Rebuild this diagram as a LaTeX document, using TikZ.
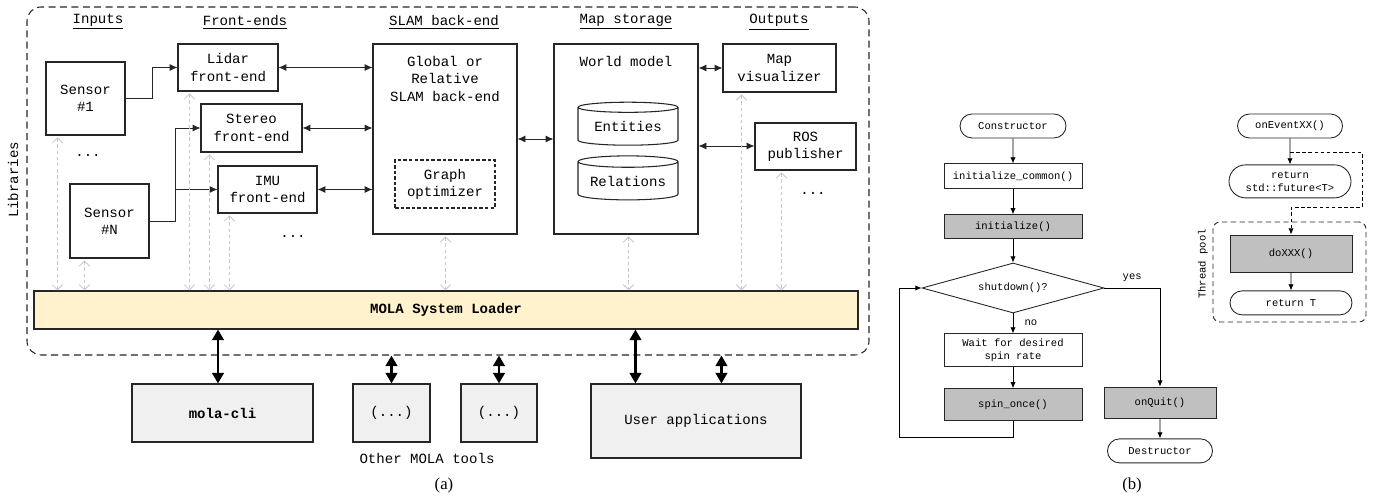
\documentclass[tikz,border=0pt]{standalone}
\usepackage{fontspec}
\setmainfont{Liberation Serif}
\setmonofont{Liberation Mono}
\usetikzlibrary{arrows.meta, positioning, shapes.geometric, shapes.misc}

\newcommand{\archfont}{\ttfamily\fontsize{8}{9.8}\selectfont}
\newcommand{\flowfont}{\ttfamily\fontsize{6}{7.6}\selectfont}

\definecolor{loaderfill}{HTML}{FFF2CC}
\definecolor{toolfill}{HTML}{F0F0F0}
\definecolor{userfill}{HTML}{C0C0C0}

\tikzset{
  sz/.style 2 args={minimum width=#1*0.02cm, minimum height=#2*0.02cm},
  blk/.style={draw=black!85, line width=0.6pt, fill=white, align=center,
    inner sep=0pt, font=\archfont},
  tool/.style={blk, fill=toolfill},
  hdr/.style={font=\archfont, inner sep=1pt},
  dlink/.style={black!85, line width=0.5pt,
    {Latex[length=4.5pt,width=4pt]}-{Latex[length=4.5pt,width=4pt]}},
  link/.style={black!85, line width=0.5pt, -{Latex[length=4.5pt,width=4pt]}},
  cfg/.style={black!22, line width=0.5pt, dash pattern=on 2pt off 1.5pt,
    {Straight Barb[length=3pt,width=6pt]}-{Straight Barb[length=3pt,width=6pt]}},
  big/.style={line width=1.5pt,
    {Triangle[length=6pt,width=6.5pt]}-{Triangle[length=6pt,width=6.5pt]}},
  % flow chart
  fblock/.style={draw=black!85, line width=0.5pt, fill=white, align=center,
    inner sep=0pt, font=\flowfont},
  fuser/.style={fblock, fill=userfill},
  fterm/.style={fblock, rounded rectangle},
  flow/.style={black, line width=0.5pt, -{Latex[length=3.5pt,width=3pt]}},
}

\begin{document}
\begin{tikzpicture}[x=0.02cm, y=-0.02cm]
\useasboundingbox (0,0) rectangle (1376,496);

% Libraries frame
\node[draw=black!85, line width=0.6pt, dash pattern=on 4pt off 2.5pt,
  rounded corners=8pt, sz={842}{348}] (libs) at (448,181) {};
\node[hdr, rotate=90] (liblbl) at (13,180) {Libraries};

% Column headers
\node[hdr] (hin)  at (98,22)  {\underline{Inputs}};
\node[hdr] (hfe)  at (245,22) {\underline{Front-ends}};
\node[hdr] (hbe)  at (444,22) {\underline{SLAM back-end}};
\node[hdr] (hms)  at (626,22) {\underline{Map storage}};
\node[hdr] (hout) at (779,22) {\underline{Outputs}};

% Inputs
\node[blk, sz={79}{73}] (s1) at (85.5,98.5) {Sensor\\\#1};
\node[blk, sz={79}{74}] (sN) at (109.5,221) {Sensor\\\#N};
\node[hdr] (sdots) at (88,155) {...};

% Front-ends
\node[blk, sz={100}{47}] (lidar)  at (228,67.5)   {Lidar\\front-end};
\node[blk, sz={101}{48}] (stereo) at (251.5,128)  {Stereo\\front-end};
\node[blk, sz={99}{47}]  (imu)    at (267.5,189.5) {IMU\\front-end};
\node[hdr] (fdots) at (293,236) {...};

% SLAM back-end
\node[blk, sz={144}{190}] (slam) at (445,139) {};
\node[hdr, align=center] (slamtxt) at (445,79) {Global or\\Relative\\SLAM back-end};
\node[blk, sz={100}{48}, dash pattern=on 2pt off 1.2pt] (graph) at (445,184) {Graph\\optimizer};

% Map storage
\node[blk, sz={144}{190}] (mapst) at (626,139) {};
\node[hdr] (wmtxt) at (626,62) {World model};
\node[blk, cylinder, shape border rotate=90, aspect=0.15, sz={100}{43}] (ent) at (628,126.5) {Entities};
\node[blk, cylinder, shape border rotate=90, aspect=0.15, sz={100}{44}] (rel) at (628,181) {Relations};

% Outputs
\node[blk, sz={113}{48}] (mapvis) at (779.5,68)  {Map\\visualizer};
\node[blk, sz={101}{47}] (ros)    at (805.5,146.5) {ROS\\publisher};
\node[hdr] (odots) at (813,193) {...};

% System loader
\node[blk, fill=loaderfill, sz={824}{38}, font=\archfont\bfseries] (loader) at (446,310) {MOLA System Loader};

% Sensors to front-ends
\draw[link] (s1.east) -- ++(27,0) |- (lidar.west);
\draw[link] (sN.east) -- ++(26,0) |- (stereo.west);
\draw[link] (sN.east) -- ++(26,0) |- (imu.west);

% Front-ends to back-end
\foreach \fe in {lidar, stereo, imu}
  \draw[dlink] (\fe.east) -- (\fe.east -| slam.west);
\draw[dlink] (slam.east) -- (slam.east -| mapst.west);
\draw[dlink] (mapvis.west -| mapst.east) -- (mapvis.west);
\draw[dlink] ([yshift=-0.14cm]mapst.east) -- ([yshift=-0.14cm]mapst.east -| ros.west);

% Modules registered in the loader
\foreach \nd/\dx in {s1/12, sN/15, lidar/12, stereo/9, imu/12, slam/73, mapst/75, mapvis/19, ros/27} {
  \coordinate (t) at ([xshift=\dx*0.02cm]\nd.south west);
  \draw[cfg] ([yshift=-1pt]t) -- (t |- loader.north);
}

% External tools
\node[tool, sz={181}{58}, font=\archfont\bfseries] (cli) at (222.5,413) {mola-cli};
\node[tool, sz={77}{58}]  (tool1) at (391.5,413) {(...)};
\node[tool, sz={76}{58}]  (tool2) at (499,413)   {(...)};
\node[tool, sz={210}{74}] (apps)  at (696,421)   {User applications};
\node[hdr] (othlbl) at (427,458) {Other MOLA tools};

\coordinate (c1) at ([xshift=-0.09cm]cli.north);
\draw[big] (c1 |- loader.south) -- (c1);
\draw[big] (tool1.north |- libs.south) -- (tool1.north);
\draw[big] (tool2.north |- libs.south) -- (tool2.north);
\coordinate (a1) at ([xshift=0.9cm]apps.north west);
\coordinate (a2) at ([xshift=2.62cm]apps.north west);
\draw[big] (a1 |- loader.south) -- (a1);
\draw[big] (a2 |- libs.south) -- (a2);

\node[font=\fontsize{9.5}{11}\selectfont] (capa) at (444,485) {(a)};

% Module life cycle
\node[fterm, sz={106}{24}] (ctor) at (1013,126) {Constructor};
\node[fblock, sz={138}{25}, below=0.5cm of ctor] (initc) {initialize\_common()};
\node[fuser, sz={138}{24}, below=0.5cm of initc] (init) {initialize()};
\node[fblock, diamond, aspect=3.6, sz={182}{50}] (shut) at (1013,288) {shutdown()?};
\node[fblock, sz={138}{33}, below=0.4cm of shut] (wait) {Wait for desired\\spin rate};
\node[fuser, sz={138}{32}, below=0.42cm of wait] (spin) {spin\_once()};
\node[fuser, sz={112}{31}] (quit) at (1160,402.5) {onQuit()};
\node[fterm, sz={105}{24}, below=0.4cm of quit] (dtor) {Destructor};

\draw[flow] (ctor) -- (initc);
\draw[flow] (initc) -- (init);
\draw[flow] (init) -- (shut);
\draw[flow] (shut) -- node[right, font=\flowfont, pos=0.45, xshift=3pt] {no} (wait);
\draw[flow] (wait) -- (spin);
\draw[flow] (spin.south) -- ++(0,16) -| ([xshift=-0.44cm]shut.west) -- (shut.west);
\draw[flow] (shut.east) -| node[above, font=\flowfont, pos=0.25] {yes} (quit.north);
\draw[flow] (quit) -- (dtor);

% Events handled by the thread pool
\node[fterm, sz={105}{24}] (evt) at (1290,126) {onEventXX()};
\node[fterm, sz={122}{33}, below=0.52cm of evt] (fut) {return\\std::future<T>};
\node[draw=black!85, line width=0.5pt, dash pattern=on 3pt off 2pt,
  rounded corners=4pt, sz={153}{100}] (pool) at (1289.5,272) {};
\node[font=\flowfont, rotate=90] (poollbl) at (1203,264) {Thread pool};
\node[fuser, sz={122}{37}] (doxxx) at (1291,253.5) {doXXX()};
\node[fterm, sz={122}{24}, below=0.36cm of doxxx] (rett) {return T};

\draw[flow] (evt) -- (fut);
\draw[flow, dash pattern=on 2pt off 1.5pt] (evt.south) ++(0,14) -- ++(72,0)
  |- ([yshift=0.54cm]doxxx.north) -- (doxxx.north);
\draw[flow] (doxxx) -- (rett);

\node[font=\fontsize{9.5}{11}\selectfont] (capb) at (1132,485) {(b)};
\end{tikzpicture}
\end{document}
